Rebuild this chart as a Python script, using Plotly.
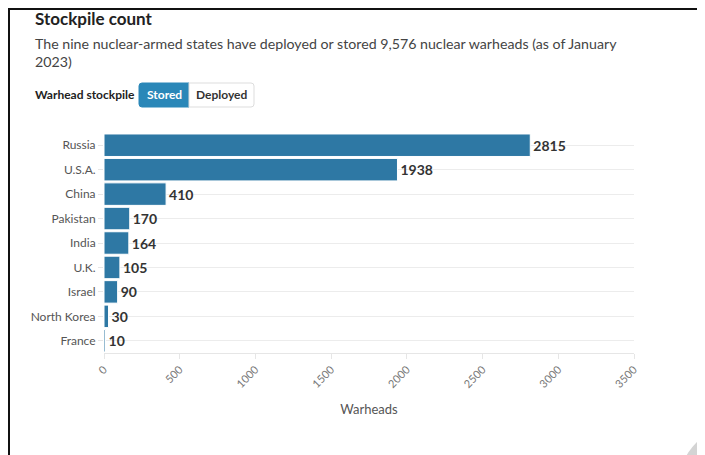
import plotly.graph_objects as go

countries = ["Russia", "U.S.A.", "China", "Pakistan", "India", "U.K.", "Israel", "North Korea", "France"]
stored = [2815, 1938, 410, 170, 164, 105, 90, 30, 10]
xticks = [0, 500, 1000, 1500, 2000, 2500, 3000, 3500]

W, H = 705, 455
OFF = 8  # page body margin
FONT = "Lato"
BAR = "#2e78a4"

L, R, T, B = 104 - OFF, 705 - 634 + OFF, 133 - OFF, 455 - 353 + OFF

fig = go.Figure()
fig.add_trace(go.Bar(
    y=countries, x=stored, orientation="h",
    marker=dict(color=BAR, line=dict(color="white", width=1)),
    text=[f"<b>{v}</b>" for v in stored], textposition="outside",
    textfont=dict(family=FONT, size=14, color="#333"),
    cliponaxis=False, hoverinfo="skip",
))

fig.update_layout(
    width=W, height=H,
    margin=dict(l=L, r=R, t=T, b=B),
    paper_bgcolor="white", plot_bgcolor="white",
    bargap=0.08, showlegend=False,
    font=dict(family=FONT, color="#555"),
    xaxis=dict(range=[0, 3500], tickvals=xticks, ticktext=[str(v) for v in xticks],
               tickangle=-45, tickfont=dict(size=11, color="#777"),
               showgrid=False, zeroline=False,
               showline=True, linecolor="#e6e6e6", linewidth=1,
               ticks="outside", ticklen=5, tickcolor="#e6e6e6",
               title=dict(text="Warheads", font=dict(size=13, color="#555"), standoff=15)),
    yaxis=dict(autorange="reversed", tickfont=dict(size=12, color="#555"),
               showgrid=True, gridcolor="#ececec", gridwidth=1,
               ticks="outside", ticklen=5, tickcolor="#e6e6e6", zeroline=False),
)

pw, ph = W - L - R, H - T - B
def px(x): return (x - OFF - L) / pw
def py(y): return 1 - (y - OFF - T) / ph

shapes = [
    dict(type="line", xref="paper", yref="paper", x0=px(OFF), x1=px(706), y0=py(OFF + 1), y1=py(OFF + 1),
         line=dict(color="#111", width=2)),
    dict(type="line", xref="paper", yref="paper", x0=px(OFF + 1), x1=px(OFF + 1), y0=py(OFF), y1=py(470),
         line=dict(color="#111", width=2)),
    dict(type="path", xref="paper", yref="paper",
         path=f"M {px(142)},{py(83)} L {px(189)},{py(83)} L {px(189)},{py(107)} L {px(142)},{py(107)} "
              f"Q {px(139)},{py(107)} {px(139)},{py(104)} L {px(139)},{py(86)} Q {px(139)},{py(83)} {px(142)},{py(83)} Z",
         fillcolor="#2a87b8", line=dict(color="#2a87b8", width=1)),
    dict(type="path", xref="paper", yref="paper",
         path=f"M {px(189)},{py(83)} L {px(251)},{py(83)} Q {px(254)},{py(83)} {px(254)},{py(86)} L {px(254)},{py(104)} "
              f"Q {px(254)},{py(107)} {px(251)},{py(107)} L {px(189)},{py(107)} Z",
         fillcolor="white", line=dict(color="#dddddd", width=1)),
    dict(type="circle", xref="paper", yref="paper", x0=px(745-68), x1=px(745+68), y0=py(490-68), y1=py(490+68),
         fillcolor="#d4d4d4", line=dict(width=0)),
]
fig.update_layout(shapes=shapes)

anns = [
    dict(text="<b>Stockpile count</b>", x=px(33), y=py(18), font=dict(size=17, color="#222")),
    dict(text="The nine nuclear-armed states have deployed or stored 9,576 nuclear warheads (as of January<br>2023)",
         x=px(33), y=py(53), font=dict(size=14.2, color="#444")),
    dict(text="<b>Warhead stockpile</b>", x=px(33), y=py(95), font=dict(size=12, color="#222")),
    dict(text="<b>Stored</b>", x=px(164), y=py(95), xanchor="center", font=dict(size=12, color="white")),
    dict(text="<b>Deployed</b>", x=px(221.5), y=py(95), xanchor="center", font=dict(size=12, color="#333")),
]
for a in anns:
    a.setdefault("xanchor", "left")
    a.update(xref="paper", yref="paper", yanchor="middle", showarrow=False, align="left")
    a["font"]["family"] = FONT
fig.update_layout(annotations=anns)

fig.write_html("out.html")
